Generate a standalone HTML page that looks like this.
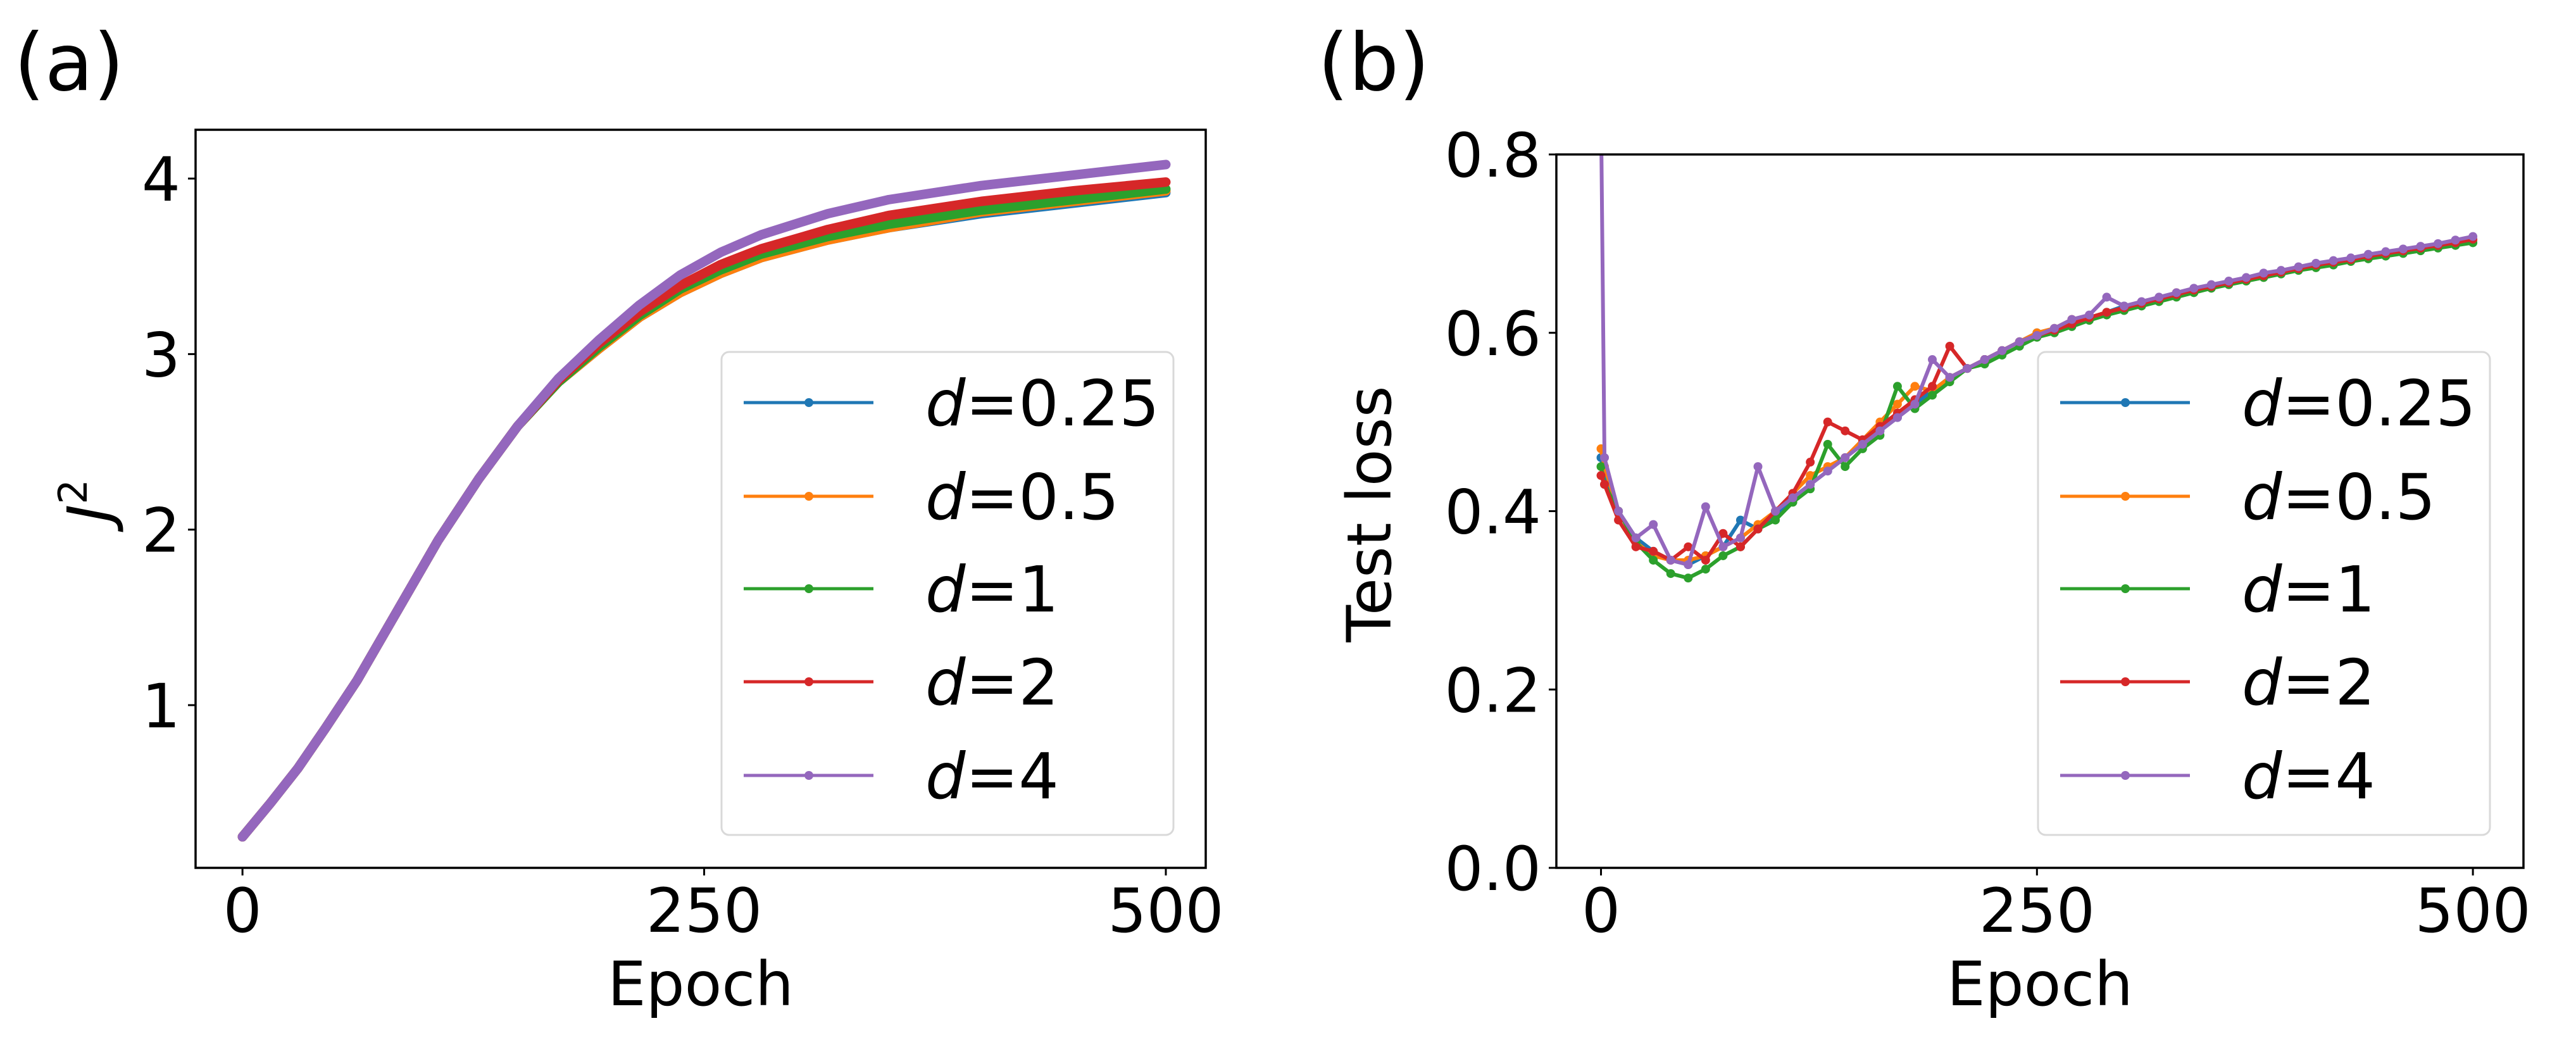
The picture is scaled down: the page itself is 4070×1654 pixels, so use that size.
<!DOCTYPE html>
<html><head><meta charset="utf-8"><style>
html,body{margin:0;padding:0;background:#fff;}
svg{display:block;font-family:"DejaVu Sans","Liberation Sans",sans-serif;}
</style></head><body>
<svg id="fig" width="4070" height="1654" viewBox="0 0 4070 1654" xmlns="http://www.w3.org/2000/svg">
<defs>
<clipPath id="clipA"><rect x="309" y="205" width="1596" height="1166"/></clipPath>
<clipPath id="clipB"><rect x="2459" y="244" width="1528" height="1127"/></clipPath>
</defs>
<rect width="4070" height="1654" fill="#fff"/>
<text x="22" y="142" font-size="125">(a)</text>
<text x="2082" y="142" font-size="125">(b)</text>
<g id="gA"></g>
<g id="gB"></g>
</svg>
<script>
const NS="http://www.w3.org/2000/svg";
const colors=["#1f77b4","#ff7f0e","#2ca02c","#d62728","#9467bd"];
const seriesNames=["0.25","0.5","1","2","4"];

// Panel (a) data: J^2 vs epoch
const epochsA=[0,15,30,45,62,84,106,128,149,171,193,215,237,259,281,317,350,400,450,500];
const jBlue  =[0.25,0.44,0.64,0.87,1.14,1.54,1.94,2.29,2.59,2.84,3.03,3.21,3.35,3.46,3.55,3.65,3.72,3.80,3.86,3.92];
const jOrange=[0.25,0.44,0.64,0.87,1.14,1.54,1.94,2.29,2.59,2.84,3.03,3.21,3.35,3.46,3.55,3.65,3.72,3.81,3.87,3.93];
const jGreen =[0.25,0.44,0.64,0.87,1.14,1.54,1.94,2.29,2.59,2.84,3.04,3.22,3.37,3.48,3.57,3.67,3.74,3.82,3.88,3.94];
const jRed   =[0.25,0.44,0.64,0.87,1.14,1.54,1.94,2.29,2.59,2.85,3.06,3.24,3.39,3.51,3.60,3.71,3.79,3.87,3.93,3.98];
const jPurple=[0.25,0.44,0.64,0.87,1.14,1.54,1.94,2.29,2.59,2.86,3.08,3.28,3.45,3.58,3.68,3.80,3.88,3.96,4.02,4.08];
const xTicksA=[0,250,500];
const yTicksA=[1,2,3,4];

// Panel (b) data: test loss vs epoch
const epochsB=[0,2,10,20,30,40,50,60,70,80,90,100,110,120,130,140,150,160,170,180,190,200,210,220,230,240,250,260,270,280,290,300,310,320,330,340,350,360,370,380,390,400,410,420,430,440,450,460,470,480,490,500];
const lBlue  =[0.46,0.44,0.40,0.37,0.355,0.345,0.34,0.35,0.36,0.39,0.38,0.395,0.415,0.43,0.445,0.46,0.475,0.49,0.505,0.52,0.535,0.55,0.56,0.57,0.58,0.59,0.6,0.603,0.61,0.617,0.623,0.63,0.633,0.638,0.643,0.648,0.652,0.656,0.66,0.664,0.668,0.672,0.676,0.679,0.682,0.686,0.689,0.692,0.695,0.698,0.701,0.704];
const lOrange=[0.47,0.45,0.40,0.365,0.35,0.345,0.345,0.35,0.36,0.37,0.385,0.40,0.42,0.44,0.45,0.46,0.48,0.5,0.52,0.54,0.535,0.55,0.56,0.57,0.58,0.59,0.6,0.605,0.615,0.617,0.623,0.628,0.633,0.638,0.645,0.648,0.652,0.656,0.66,0.664,0.668,0.672,0.676,0.679,0.682,0.686,0.689,0.692,0.695,0.698,0.7,0.704];
const lGreen =[0.45,0.43,0.40,0.365,0.345,0.33,0.325,0.335,0.35,0.36,0.38,0.39,0.41,0.425,0.475,0.45,0.47,0.485,0.54,0.515,0.53,0.545,0.56,0.565,0.575,0.585,0.595,0.6,0.607,0.614,0.62,0.625,0.63,0.635,0.64,0.645,0.65,0.654,0.658,0.662,0.666,0.67,0.673,0.676,0.68,0.683,0.686,0.689,0.692,0.695,0.698,0.701];
const lRed   =[0.44,0.43,0.39,0.36,0.355,0.345,0.36,0.345,0.375,0.36,0.38,0.40,0.42,0.455,0.50,0.49,0.48,0.495,0.51,0.525,0.54,0.585,0.56,0.57,0.58,0.59,0.597,0.603,0.61,0.617,0.623,0.628,0.633,0.638,0.643,0.648,0.652,0.656,0.66,0.664,0.668,0.672,0.676,0.679,0.682,0.686,0.689,0.692,0.695,0.698,0.701,0.705];
const lPurple=[0.85,0.46,0.40,0.37,0.385,0.345,0.34,0.405,0.36,0.37,0.45,0.40,0.415,0.43,0.445,0.46,0.475,0.49,0.505,0.52,0.57,0.55,0.56,0.57,0.58,0.59,0.597,0.605,0.615,0.62,0.64,0.63,0.635,0.64,0.645,0.65,0.654,0.658,0.662,0.667,0.67,0.674,0.678,0.681,0.684,0.688,0.691,0.694,0.697,0.7,0.704,0.708];
const xTicksB=[0,250,500];
const yTicksB=[0.0,0.2,0.4,0.6,0.8];
const yTickLabelsB=["0.0","0.2","0.4","0.6","0.8"];

function el(tag,attrs,parent){const e=document.createElementNS(NS,tag);for(const k in attrs)e.setAttribute(k,attrs[k]);parent.appendChild(e);return e;}

function drawPanel(g,box,xDom,yDom,xTicks,yTicks,yLabels,series,epochs,lineW,dotR,clipId,ylabel,ylabelX,ylabelY,legendX){
  const sx=v=>box.x0+(v-xDom[0])/(xDom[1]-xDom[0])*(box.x1-box.x0);
  const sy=v=>box.y1-(v-yDom[0])/(yDom[1]-yDom[0])*(box.y1-box.y0);
  const data=el('g',{'clip-path':'url(#'+clipId+')'},g);
  series.forEach((vals,i)=>{
    const pts=vals.map((v,j)=>sx(epochs[j])+','+sy(v)).join(' ');
    const pl=el('polyline',{points:pts,fill:'none',stroke:colors[i],'stroke-width':lineW,'stroke-linejoin':'round','stroke-linecap':'round'},data);
    
    
    vals.forEach((v,j)=>{
      const c=el('circle',{cx:sx(epochs[j]),cy:sy(v),r:dotR,fill:colors[i]},data);
      
      
    });
  });
  const frame=el('rect',{x:box.x0,y:box.y0,width:box.x1-box.x0,height:box.y1-box.y0,fill:'none',stroke:'#000','stroke-width':3.5},g);
  
  
  xTicks.forEach(t=>{
    el('line',{x1:sx(t),x2:sx(t),y1:box.y1,y2:box.y1+12,stroke:'#000','stroke-width':3},g);
    const tx=el('text',{x:sx(t),y:1472,'font-size':96,'text-anchor':'middle'},g);
    tx.textContent=t;
    
    
  });
  yTicks.forEach((t,k)=>{
    el('line',{x1:box.x0-12,x2:box.x0,y1:sy(t),y2:sy(t),stroke:'#000','stroke-width':3},g);
    const tx=el('text',{x:box.x0-24,y:sy(t)+35,'font-size':96,'text-anchor':'end'},g);
    tx.textContent=yLabels[k];
    
    
  });
  const xl=el('text',{x:(box.x0+box.x1)/2,y:1588,'font-size':96,'text-anchor':'middle'},g);
  xl.textContent='Epoch';
  
  
  const yl=el('text',{x:0,y:0,'font-size':96,'text-anchor':'middle',transform:'translate('+ylabelX+','+ylabelY+') rotate(-90)'},g);
  yl.innerHTML=ylabel;
  
  
  const lg=el('g',{},g);
  
  
  el('rect',{x:legendX,y:556,width:714,height:763,rx:12,fill:'#fff','fill-opacity':0.85,stroke:'#d9d9d9','stroke-width':3},lg);
  const ys=[636,784,930,1077,1225];
  seriesNames.forEach((n,i)=>{
    const e=el('g',{},lg);
    
    
    el('line',{x1:legendX+35,x2:legendX+240,y1:ys[i],y2:ys[i],stroke:colors[i],'stroke-width':5},e);
    el('circle',{cx:legendX+138,cy:ys[i],r:7,fill:colors[i]},e);
    const t=el('text',{x:legendX+322,y:ys[i]+36,'font-size':100},e);
    t.innerHTML='<tspan font-style="italic">d</tspan>='+n;
  });
}

drawPanel(document.getElementById('gA'),{x0:309,x1:1905,y0:205,y1:1371},[-25.4,521.6],[0.073,4.278],
  xTicksA,yTicksA,yTicksA.map(String),[jBlue,jOrange,jGreen,jRed,jPurple],epochsA,15,7,'clipA',
  '<tspan font-style="italic">J</tspan><tspan font-size="62" dy="-38">2</tspan>',175,791,1140);
drawPanel(document.getElementById('gB'),{x0:2459,x1:3987,y0:244,y1:1371},[-25.6,529],[0,0.8],
  xTicksB,yTicksB,yTickLabelsB,[lBlue,lOrange,lGreen,lRed,lPurple],epochsB,6,7,'clipB',
  'Test loss',2197,812,3220);
</script>
</body></html>
